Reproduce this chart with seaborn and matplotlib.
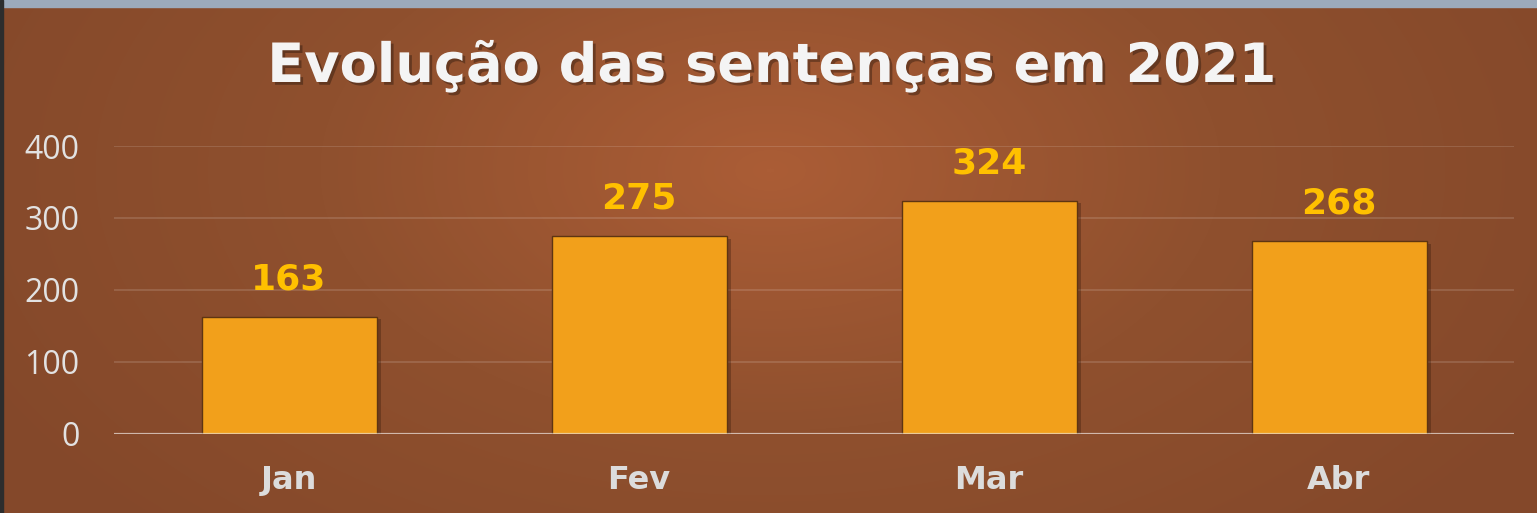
import numpy as np
import pandas as pd
import seaborn as sns
import matplotlib.pyplot as plt
import matplotlib.patheffects as pe
from matplotlib.colors import LinearSegmentedColormap

meses = ['Jan', 'Fev', 'Mar', 'Abr']
sentencas = [163, 275, 324, 268]
yticks = [0, 100, 200, 300, 400]
titulo = 'Evolução das sentenças em 2021'

df = pd.DataFrame({'mes': meses, 'sentencas': sentencas})

sns.set_theme(style='white')
plt.rcParams['font.family'] = ['Open Sans', 'DejaVu Sans']

W, H = 1537, 513
fig = plt.figure(figsize=(W / 100, H / 100), dpi=100)

# fundo com degradê radial
bg = fig.add_axes([0, 0, 1, 1], zorder=-10)
yy, xx = np.mgrid[0:H, 0:W]
r = np.sqrt(((xx - 770) / 900) ** 2 + ((yy - 170) / 520) ** 2)
cmap = LinearSegmentedColormap.from_list('bg', ['#ab5d36', '#8f502e', '#84482a'])
bg.imshow(np.clip(r, 0, 1), cmap=cmap, vmin=0, vmax=1, aspect='auto',
          extent=[0, W, H, 0])
bg.axhspan(0, 7, color='#9caabb')
bg.axvspan(0, 3, color='#2d2d2d')
bg.set_xlim(0, W)
bg.set_ylim(H, 0)
bg.axis('off')

ax = fig.add_axes([114 / W, 79 / H, 1400 / W, 288 / H])
ax.patch.set_alpha(0)

sns.barplot(data=df, x='mes', y='sentencas', color='#f2a01b', width=0.5,
            edgecolor='#5e3512', linewidth=1, saturation=1, ax=ax, zorder=3)
for bar in ax.patches:
    bar.set_path_effects([pe.SimplePatchShadow(offset=(3, -2), shadow_rgbFace='#2a1205',
                                               alpha=0.3), pe.Normal()])

for i, v in enumerate(sentencas):
    ax.annotate(str(v), (i, v), xytext=(0, 27), textcoords='offset points',
                ha='center', va='center', fontsize=26, fontweight='bold',
                family='DejaVu Sans', color='#ffc000', zorder=5)

ax.set_xlim(-0.5, 3.5)
ax.set_ylim(0, 400)
ax.set_yticks(yticks)
ax.yaxis.grid(True, color='white', alpha=0.13, linewidth=1.5, zorder=0)
ax.axhline(0, color='white', alpha=0.55, linewidth=1.6, zorder=4)
for s in ax.spines.values():
    s.set_visible(False)
ax.set_xlabel('')
ax.set_ylabel('')
ax.tick_params(axis='y', length=0, pad=25, labelsize=23, labelcolor='#e2e2e2')
ax.tick_params(axis='x', length=0, pad=22, labelsize=23, labelcolor='#dcdcdc')
for lbl in ax.get_xticklabels():
    lbl.set_fontweight('bold')
    lbl.set_family('DejaVu Sans')

fig.text(0.502, 1 - 67 / H, titulo, ha='center', va='center', fontsize=39,
         fontweight='bold', family='DejaVu Sans', color='#f4f4f4',
         path_effects=[pe.withSimplePatchShadow(offset=(2, -2), shadow_rgbFace='black',
                                                alpha=0.3)])

fig.savefig('out.png', dpi=100)
